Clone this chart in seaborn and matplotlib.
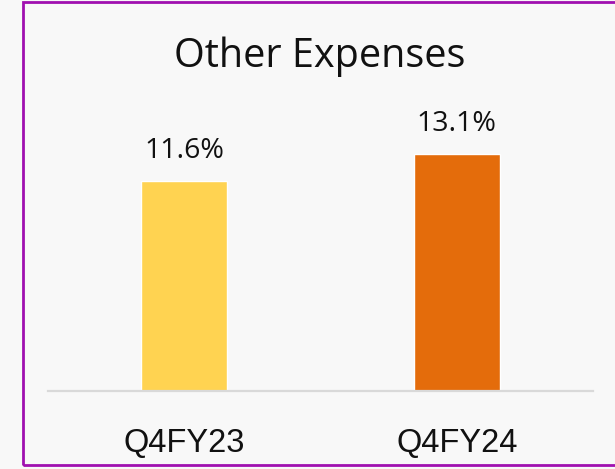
import matplotlib
matplotlib.use("Agg")
import matplotlib.pyplot as plt
import seaborn as sns
import pandas as pd
from matplotlib.patches import Rectangle

categories = ["Q4FY23", "Q4FY24"]
values = [11.6, 13.1]
value_labels = ["11.6%", "13.1%"]
bar_colors = ["#FFD351", "#E46C0B"]
title = "Other Expenses"

sns.set_theme(style="white")
plt.rcParams["font.family"] = ["Open Sans", "DejaVu Sans"]

W, H = 615, 469
fig = plt.figure(figsize=(W / 100, H / 100), dpi=100, facecolor="#F8F8F8")

# purple frame
fig.patches.append(Rectangle((22.5 / W, 1 - 464.5 / H), 1.2, (464.5 - 2.5) / H,
                             transform=fig.transFigure, fill=False,
                             edgecolor="#A010B0", linewidth=2.0, zorder=10))

ax = fig.add_axes([48 / W, 1 - 391 / H, (593 - 48) / W, 289.6 / H])
ax.set_facecolor("none")

df = pd.DataFrame({"cat": categories, "val": values})
sns.barplot(data=df, x="cat", y="val", hue="cat", palette=bar_colors,
            width=0.316, legend=False, ax=ax, saturation=1)

ax.set_xlim(-0.5, 1.5)
ax.set_ylim(0, 16)
ax.set_xlabel("")
ax.set_ylabel("")
ax.set_yticks([])
for s in ["left", "right", "top"]:
    ax.spines[s].set_visible(False)
ax.spines["bottom"].set_color("#D9D9D9")
ax.spines["bottom"].set_linewidth(1.6)
ax.tick_params(axis="x", length=0, pad=26.5)
ax.set_xticks(range(len(categories)))
ax.set_xticklabels(categories, fontsize=23.5, color="#111111",
                   family=["Liberation Sans", "DejaVu Sans"])

for i, (v, lab) in enumerate(zip(values, value_labels)):
    ax.annotate(lab, (i, v), xytext=(0, 16.5), textcoords="offset points",
                ha="center", va="baseline", fontsize=20.5, color="#111111")

fig.text(320 / W, 1 - 67 / H, title, ha="center", va="baseline",
         fontsize=28.5, color="#111111")

fig.savefig("out.png", dpi=100, facecolor=fig.get_facecolor())
